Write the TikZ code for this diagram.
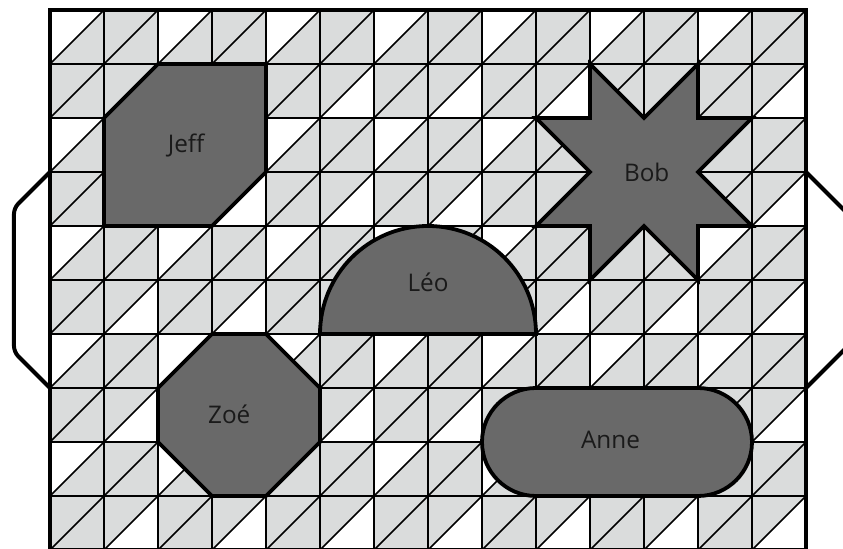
\documentclass[tikz,border=0pt]{standalone}
\usepackage{fontspec}
\setmainfont{Open Sans}
\usetikzlibrary{shapes}

\definecolor{tilegray}{RGB}{218,220,220}
\definecolor{blobgray}{RGB}{105,105,105}
\definecolor{inkgray}{RGB}{26,26,26}

\begin{document}
\begin{tikzpicture}[gridline/.style={draw=black,line width=0.9pt},
					frame/.style={draw=black,line width=2.1pt},
					handle/.style={draw=black,line width=2.1pt,rounded corners=3pt},
					blob/.style={draw=black,fill=blobgray,line width=2pt},
					tagtext/.style={text=inkgray,font=\fontsize{12.8}{15}\selectfont}
					]
					\useasboundingbox (-0.926,0.185) rectangle (14.685,-9.981);
					% tiles
					\fill[tilegray] (0,0) rectangle (14,-10);
					\foreach \c in {0,2,...,12} \foreach \r in {0,2,...,8}
						\fill[white] (\c,-\r) -- ++(1,0) -- ++(-1,-1) -- cycle;
					\foreach \c in {1,3,...,13} \foreach \r in {1,3,...,9}
						\fill[white] (\c+1,-\r) -- ++(0,-1) -- ++(-1,0) -- cycle;
					\draw[gridline] (0,0) grid (14,-10);
					\foreach \c in {0,...,13} \foreach \r in {0,...,9}
						\draw[gridline] (\c,-\r-1) -- ++(1,1);
					\draw[frame] (0,0) rectangle (14,-10);
					% handles
					\coordinate (lt) at (0,-3); \coordinate (lb) at (0,-7);
					\coordinate (rt) at (14,-3); \coordinate (rb) at (14,-7);
					\draw[handle] (lt) -- ++(-0.667,-0.667) -- ++(0,-2.666) -- (lb);
					\draw[handle] (rt) -- ++(0.8,-0.8) -- ++(0,-2.4) -- (rb);
					% shapes
					\draw[blob] (1,-2) -- (2,-1) -- (4,-1) -- (4,-3) -- (3,-4) -- (1,-4) -- cycle;
					\node[tagtext] (jeff) at (2.52,-2.5) {Jeff};
					\draw[blob] (10,-1) -- (11,-2) -- (12,-1) -- (12,-2) -- (13,-2) -- (12,-3) -- (13,-4) -- (12,-4)
						-- (12,-5) -- (11,-4) -- (10,-5) -- (10,-4) -- (9,-4) -- (10,-3) -- (9,-2) -- (10,-2) -- cycle;
					\node[tagtext] (bob) at (11.05,-3) {Bob};
					\draw[blob] (5,-6) arc (180:0:2) -- cycle;
					\node[tagtext] (leo) at (7,-5.05) {Léo};
					\draw[blob] (3,-6) -- (4,-6) -- (5,-7) -- (5,-8) -- (4,-9) -- (3,-9) -- (2,-8) -- (2,-7) -- cycle;
					\node[tagtext] (zoe) at (3.32,-7.48) {Zoé};
					\draw[blob] (9,-7) -- (12,-7) arc (90:-90:1) -- (9,-9) arc (270:90:1) -- cycle;
					\node[tagtext] (anne) at (10.38,-7.97) {Anne};
\end{tikzpicture}
\end{document}
